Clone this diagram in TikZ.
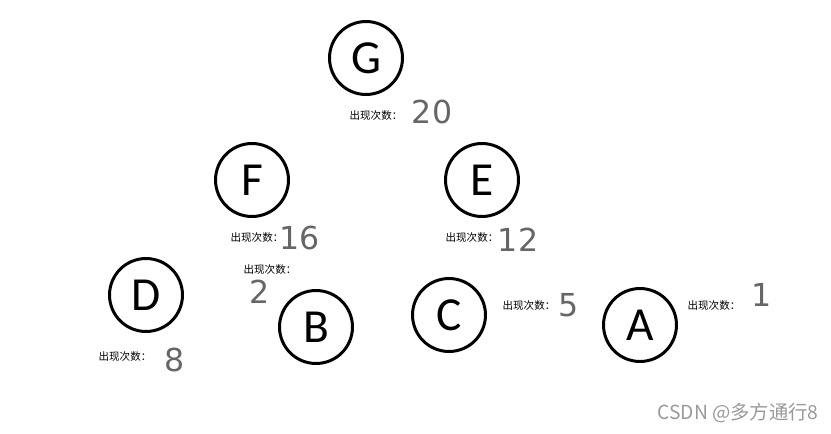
\documentclass[tikz,border=0pt]{standalone}
\usepackage{fontspec}
\setmainfont{Carlito}
\newfontfamily\cjk{Noto Sans CJK SC}
\newfontfamily\hand{DejaVu Sans}

\tikzstyle{letter} = [circle, draw, line width=1.7pt, minimum size=1.46cm, inner sep=0pt, font=\fontsize{27}{28}\selectfont]
\tikzstyle{count} = [inner sep=0pt, font=\cjk\fontsize{6}{7}\selectfont]
\tikzstyle{num} = [inner sep=0pt, text=black!60, font=\hand\fontsize{18}{20}\selectfont]

\begin{document}
\begin{tikzpicture}[x=0.02cm,y=0.02cm]
\useasboundingbox (0,0) rectangle (831,-433);
\node[letter] (g) at (366,-58) {G};
\node[letter] (f) at (252,-180) {F};
\node[letter] (e) at (482,-180) {E};
\node[letter] (d) at (146,-295) {D};
\node[letter] (b) at (316,-327) {B};
\node[letter] (c) at (449,-315) {C};
\node[letter] (a) at (640,-325) {A};
\node[count] (gl) at (376,-116) {出现次数：};
\node[count] (fl) at (257,-238) {出现次数：};
\node[count] (bl) at (270,-270) {出现次数：};
\node[count] (el) at (472,-238) {出现次数：};
\node[count] (dl) at (125,-357) {出现次数：};
\node[count] (cl) at (529,-306) {出现次数：};
\node[count] (al) at (714,-306) {出现次数：};
\node[num] (gn) at (432,-112) {20};
\node[num] (fn) at (300,-238) {16};
\node[num] (bn) at (260,-292) {2};
\node[num] (en) at (518,-240) {12};
\node[num] (dn) at (175,-360) {8};
\node[num] (cn) at (569,-305) {5};
\node[num] (an) at (762,-295) {1};
\node[inner sep=0pt, text=black!40, font=\cjk\fontsize{11}{12}\selectfont] (mark) at (738,-413) {CSDN @多方通行8};
\end{tikzpicture}
\end{document}
